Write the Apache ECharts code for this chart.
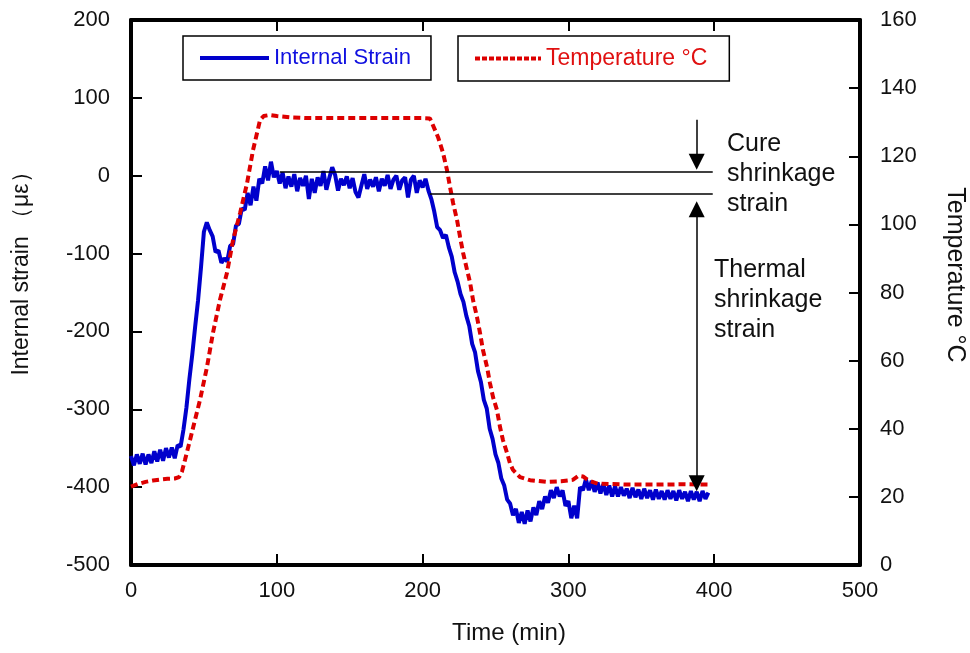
<!DOCTYPE html>
<html><head><meta charset="utf-8">
<script src="https://cdn.jsdelivr.net/npm/echarts@6/dist/echarts.min.js"></script>
<style>html,body{margin:0;padding:0;background:#fff}#c{width:970px;height:653px}</style>
</head><body><div id="c"></div>
<script>
// ---- data ----
const timeAxis = {min: 0, max: 500, interval: 100};
const strainAxis = {min: -500, max: 200, interval: 100};
const tempAxis = {min: 0, max: 160, interval: 20};

// Internal strain (με) vs time (min)
const strainData = [
[0,-360],[2,-372],[4,-358],[6,-370],[8,-357],[10,-371],[12,-358],[14,-369],[16,-354],[18,-367],
[20,-352],[22,-366],[24,-350],[26,-362],[28,-349],[30,-363],[32,-346],[34,-348],[36,-326],[38,-298],
[40,-262],[42,-230],[44,-194],[46,-160],[48,-118],[50,-72],[52,-60],[54,-70],[56,-78],[58,-98],
[60,-96],[62,-112],[64,-106],[66,-110],[68,-90],[70,-88],[72,-64],[74,-62],[76,-42],[78,-44],
[80,-22],[82,-38],[84,-14],[86,-32],[88,-4],[90,-10],[92,12],[94,-6],[96,18],[98,-2],
[100,6],[102,-10],[104,4],[106,-16],[108,-1],[110,-14],[112,2],[114,-20],[116,-3],[118,-13],
[120,0],[122,-30],[124,-4],[126,-22],[128,-2],[130,-13],[132,6],[134,-18],[136,-3],[138,11],
[140,1],[142,-19],[144,-4],[146,-12],[148,-1],[150,-16],[152,-3],[154,-21],[156,-28],[158,-13],
[160,2],[162,-17],[164,-5],[166,-14],[168,-2],[170,-20],[172,-4],[174,-13],[176,1],[178,-17],
[180,-5],[182,0],[184,-18],[186,-6],[188,-2],[190,-28],[192,-5],[194,0],[196,-22],[198,-6],
[200,-15],[202,-4],[204,-19],[206,-30],[208,-46],[210,-66],[212,-70],[214,-80],[216,-76],[218,-92],
[220,-104],[222,-124],[224,-136],[226,-152],[228,-162],[230,-180],[232,-193],[234,-216],[236,-227],[238,-251],
[240,-265],[242,-288],[244,-299],[246,-325],[248,-338],[250,-358],[252,-369],[254,-389],[256,-398],[258,-416],
[260,-421],[262,-436],[264,-428],[266,-446],[268,-432],[270,-447],[272,-430],[274,-444],[276,-426],[278,-436],
[280,-418],[282,-428],[284,-412],[286,-420],[288,-404],[290,-414],[292,-400],[294,-412],[296,-404],[298,-424],
[300,-418],[302,-440],[304,-424],[306,-440],[308,-400],[310,-404],[312,-390],[314,-404],[316,-392],[318,-406],
[320,-394],[322,-408],[324,-396],[326,-410],[328,-398],[330,-412],[332,-399],[334,-412],[336,-400],[338,-411],
[340,-402],[342,-414],[344,-401],[346,-413],[348,-403],[350,-415],[352,-402],[354,-414],[356,-404],[358,-416],
[360,-403],[362,-415],[364,-405],[366,-416],[368,-404],[370,-415],[372,-405],[374,-417],[376,-404],[378,-415],
[380,-406],[382,-418],[384,-405],[386,-416],[388,-406],[390,-418],[392,-405],[394,-415],[396,-407]
];

// Temperature (°C) vs time (min)
const tempData = [
[0,23],[5,23.8],[10,24.4],[15,24.8],[20,25.1],[25,25.3],[30,25.4],[33,25.8],[35,27.5],[37,30.8],
[40.5,36.7],[43.9,42.6],[47.3,48.4],[52.1,58.1],[56.2,68.1],[61,77.8],[65.8,85.7],[70,95.4],[74.8,103.3],[79.6,112.1],
[83.7,121.8],[88.5,130.6],[91,131.8],[95,132.1],[100,131.8],[110,131.4],[120,131.2],[140,131.2],[160,131.2],[180,131.2],
[200,131.2],[205,131.1],[206.4,129.8],[210.6,125.6],[214,121],[216.7,116],[218.8,111],[220.9,106.3],[223.6,101.3],[225.7,96.3],
[227.8,91.6],[230.5,86.6],[232.6,82.8],[234.6,77.8],[237.3,72.8],[239.4,68.1],[241.4,63.1],[244.2,58.1],[246.2,53.4],[248.3,49.3],
[251,45.5],[253.1,40.5],[255.1,36.7],[257.9,32.9],[259.9,29.9],[262,27.9],[266.8,25.8],[273.7,24.9],[285,24.4],[295,24.6],
[303,25],[307,26.2],[310,26],[314,24.8],[320,23.9],[340,23.6],[360,23.6],[380,23.7],[396,23.6]
];

// annotation values (strain units / minutes)
const cureTopStrain = 5;
const cureBottomStrain = -23;
const cureTopLineStart = 102;
const cureBottomLineStart = 205;
const annotLineEnd = 399;
const arrowTime = 388;
const downArrowFrom = 72, downArrowTo = 18;
const thermalArrowTop = -43, thermalArrowBottom = -395;

const seriesNames = ['Internal Strain', 'Temperature °C'];

// ---- chart ----
const FONT = '"Liberation Sans", Arial, sans-serif';
const BLUE = '#0000cc', RED = '#dd0000';
const chart = echarts.init(document.getElementById('c'));

const axisLine = {show: true, onZero: false, lineStyle: {color: '#000', width: 4}};
const tick = {show: true, inside: true, length: 11, lineStyle: {color: '#000', width: 2}};
const lbl = {fontSize: 22, color: '#111', fontFamily: FONT};

const option = {
  animation: false,
  backgroundColor: '#fff',
  grid: {left: 131, right: 110, top: 20, bottom: 88},
  xAxis: [
    {type: 'value', position: 'bottom', min: timeAxis.min, max: timeAxis.max, interval: timeAxis.interval,
     axisLine: axisLine, axisTick: tick, splitLine: {show: false},
     axisLabel: Object.assign({margin: 15}, lbl)},
    {type: 'value', position: 'top', min: timeAxis.min, max: timeAxis.max, interval: timeAxis.interval,
     axisLine: axisLine, axisTick: tick, splitLine: {show: false}, axisLabel: {show: false}}
  ],
  yAxis: [
    {type: 'value', position: 'left', min: strainAxis.min, max: strainAxis.max, interval: strainAxis.interval,
     axisLine: axisLine, axisTick: tick, splitLine: {show: false},
     axisLabel: Object.assign({margin: 21}, lbl)},
    {type: 'value', position: 'right', min: tempAxis.min, max: tempAxis.max, interval: tempAxis.interval,
     axisLine: axisLine, axisTick: tick, splitLine: {show: false},
     axisLabel: Object.assign({margin: 20}, lbl)}
  ],
  legend: [
    {data: [seriesNames[0]], left: 183, top: 36, orient: 'horizontal',
     padding: [11, 20, 11, 15], itemWidth: 69, itemHeight: 14, itemGap: 6,
     borderColor: '#000', borderWidth: 1.5, backgroundColor: '#fff',
     itemStyle: {opacity: 0}, lineStyle: {width: 4},
     textStyle: {fontSize: 22, color: '#1010e0', fontFamily: FONT}},
    {data: [seriesNames[1]], left: 458, top: 36, orient: 'horizontal',
     padding: [11, 22, 11, 15], itemWidth: 66, itemHeight: 14, itemGap: 6,
     borderColor: '#000', borderWidth: 1.5, backgroundColor: '#fff',
     itemStyle: {opacity: 0}, lineStyle: {width: 4, type: [5, 2]},
     textStyle: {fontSize: 23, color: '#e01010', fontFamily: FONT}}
  ],
  series: [
    {name: seriesNames[0], type: 'line', xAxisIndex: 0, yAxisIndex: 0, data: strainData,
     symbol: 'none', smooth: false,
     lineStyle: {color: BLUE, width: 4}, itemStyle: {color: BLUE},
     markLine: {
       silent: true, animation: false, symbol: ['none', 'none'],
       label: {show: false},
       lineStyle: {color: '#000', width: 1.5, type: 'solid'},
       data: [
         [{coord: [cureTopLineStart, cureTopStrain]}, {coord: [annotLineEnd, cureTopStrain]}],
         [{coord: [cureBottomLineStart, cureBottomStrain]}, {coord: [annotLineEnd, cureBottomStrain]}],
         [{coord: [arrowTime, downArrowFrom]}, {coord: [arrowTime, downArrowTo], symbol: 'triangle', symbolSize: 16}],
         [{coord: [arrowTime, thermalArrowTop], symbol: 'triangle', symbolSize: 16},
          {coord: [arrowTime, thermalArrowBottom], symbol: 'triangle', symbolSize: 16}]
       ]
     }},
    {name: seriesNames[1], type: 'line', xAxisIndex: 0, yAxisIndex: 1, data: tempData,
     symbol: 'none', smooth: false,
     lineStyle: {color: RED, width: 4, type: [7, 4]}, itemStyle: {color: RED}}
  ],
  graphic: [
    {type: 'text', x: 509, y: 633,
     style: {text: 'Time (min)', fill: '#111', fontSize: 24, fontFamily: FONT, align: 'center', verticalAlign: 'middle'}},
    {type: 'text', x: 22, y: 268, rotation: Math.PI / 2,
     style: {text: 'Internal strain （με）', fill: '#111', fontSize: 23, fontFamily: FONT, align: 'center', verticalAlign: 'middle'}},
    {type: 'text', x: 955, y: 275, rotation: -Math.PI / 2,
     style: {text: 'Temperature °C', fill: '#111', fontSize: 25, fontFamily: FONT, align: 'center', verticalAlign: 'middle'}},
    {type: 'text', x: 727, y: 129,
     style: {text: 'Cure\nshrinkage\nstrain', fill: '#111', fontSize: 25, lineHeight: 30, fontFamily: FONT, align: 'left', verticalAlign: 'top'}},
    {type: 'text', x: 714, y: 255,
     style: {text: 'Thermal\nshrinkage\nstrain', fill: '#111', fontSize: 25, lineHeight: 30, fontFamily: FONT, align: 'left', verticalAlign: 'top'}}
  ]
};
chart.setOption(option);
</script></body></html>
